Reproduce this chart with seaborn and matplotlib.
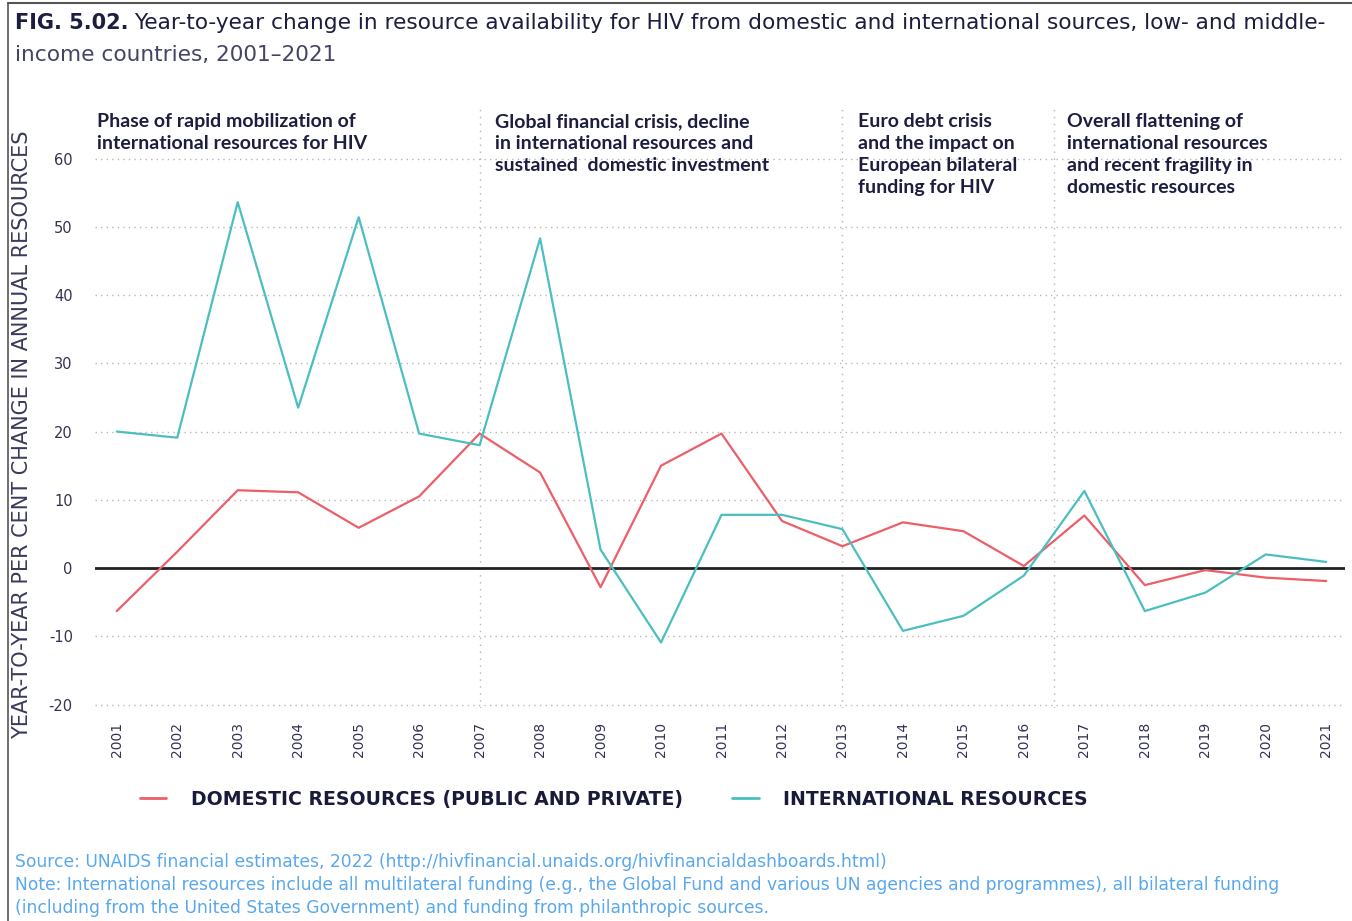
import matplotlib
matplotlib.use("Agg")
import matplotlib.pyplot as plt
import matplotlib.lines as mlines
import seaborn as sns
import pandas as pd

years = list(range(2001, 2022))
domestic = [-6.3, 2.4, 11.4, 11.1, 5.9, 10.5, 19.7, 14.0, -2.8, 15.0, 19.7,
            6.9, 3.2, 6.7, 5.4, 0.3, 7.7, -2.5, -0.3, -1.4, -1.9]
international = [20.0, 19.1, 53.6, 23.5, 51.4, 19.7, 18.0, 48.3, 2.7, -10.9, 7.8,
                 7.8, 5.7, -9.2, -7.0, -1.1, 11.3, -6.3, -3.6, 2.0, 0.9]
series_names = ["DOMESTIC RESOURCES (PUBLIC AND PRIVATE)", "INTERNATIONAL RESOURCES"]
y_ticks = [-20, -10, 0, 10, 20, 30, 40, 50, 60]
phase_lines = [2007, 2013, 2016.5]
phase_texts = [
    "Phase of rapid mobilization of\ninternational resources for HIV",
    "Global financial crisis, decline\nin international resources and\nsustained  domestic investment",
    "Euro debt crisis\nand the impact on\nEuropean bilateral\nfunding for HIV",
    "Overall flattening of\ninternational resources\nand recent fragility in\ndomestic resources",
]
phase_text_x = [2000.67, 2007.25, 2013.25, 2016.72]

title1 = "Year-to-year change in resource availability for HIV from domestic and international sources, low- and middle-"
title2 = "income countries, 2001\u20132021"
source_lines = [
    "Source: UNAIDS financial estimates, 2022 (http://hivfinancial.unaids.org/hivfinancialdashboards.html)",
    "Note: International resources include all multilateral funding (e.g., the Global Fund and various UN agencies and programmes), all bilateral funding",
    "(including from the United States Government) and funding from philanthropic sources.",
]

red = "#EC5E68"
teal = "#4BBFC0"
navy = "#1d1d40"

df = pd.DataFrame({
    "year": years * 2,
    "value": domestic + international,
    "series": [series_names[0]] * len(years) + [series_names[1]] * len(years),
})

sns.set_style("white")
plt.rcParams["font.family"] = ["DejaVu Sans"]

fig = plt.figure(figsize=(13.52, 9.21), dpi=100)
ax = fig.add_axes([95 / 1352, 1 - 708 / 921, (1345 - 95) / 1352, (708 - 108) / 921])

sns.lineplot(data=df, x="year", y="value", hue="series",
             palette={series_names[0]: red, series_names[1]: teal},
             linewidth=1.6, ax=ax, legend=False, zorder=3)

ax.set_xlim(2000.64, 2021.31)
ax.set_ylim(-20.5, 67.4)
ax.set_yticks(y_ticks)
ax.set_yticklabels([str(v) for v in y_ticks], fontsize=10.5, color="#333355")
ax.set_xticks(years)
ax.set_xticklabels([str(y) for y in years], rotation=90, fontsize=10, color="#333355")
ax.tick_params(axis="y", length=0, pad=16)
ax.tick_params(axis="x", length=0, pad=10)
for s in ax.spines.values():
    s.set_visible(False)
ax.set_xlabel("")
ax.set_ylabel("")

for v in y_ticks:
    ax.axhline(v, color="#b8b8b8", lw=1.0, ls=(0, (1, 3)), zorder=1)
ax.axhline(0, color="#222222", lw=2.0, zorder=2)
for xv in phase_lines:
    ax.axvline(xv, color="#b5b5b5", lw=1.0, ls=(0, (1, 4)), zorder=1)

for tx, txt in zip(phase_text_x, phase_texts):
    ax.text(tx, 66.7, txt, ha="left", va="top", fontsize=14, fontweight="bold",
            family="Lato", color=navy, linespacing=1.36)

fig.text(22 / 1352, 1 - 435 / 921, "YEAR-TO-YEAR PER CENT CHANGE IN ANNUAL RESOURCES",
         rotation=90, ha="center", va="center", fontsize=15, color="#3a3a5a")

# title
t1 = fig.text(15 / 1352, 1 - 23 / 921, "FIG. 5.02.", ha="left", va="center",
              fontsize=15, fontweight="bold", color=navy)
fig.canvas.draw()
bb = t1.get_window_extent()
fig.text((bb.x1 + 6) / 1352, 1 - 23 / 921, title1, ha="left", va="center",
         fontsize=15.6, color=navy)
fig.text(15 / 1352, 1 - 55 / 921, title2, ha="left", va="center",
         fontsize=15.6, color="#444466")

# legend
handles = [mlines.Line2D([], [], color=red, lw=2),
           mlines.Line2D([], [], color=teal, lw=2)]
fig.legend(handles, series_names, loc="center left",
           bbox_to_anchor=(140 / 1352, 1 - 799 / 921), ncol=2, frameon=False,
           borderpad=0, borderaxespad=0,
           handlelength=1.4, handletextpad=1.3, columnspacing=2.6,
           prop={"size": 13.6, "weight": "bold", "family": "DejaVu Sans"},
           labelcolor="#1a1a3a")

for i, line in enumerate(source_lines):
    fig.text(15 / 1352, 1 - (862 + 23 * i) / 921, line, ha="left", va="center",
             fontsize=12.3, color="#5aa8ec")

# frame lines (top and left)
fig.add_artist(mlines.Line2D([8 / 1352, 1], [1 - 3 / 921, 1 - 3 / 921],
                             transform=fig.transFigure, color="#555555", lw=1.5))
fig.add_artist(mlines.Line2D([8 / 1352, 8 / 1352], [0, 1 - 3 / 921],
                             transform=fig.transFigure, color="#555555", lw=1.2))

fig.savefig("out.png", dpi=100, facecolor="white")
